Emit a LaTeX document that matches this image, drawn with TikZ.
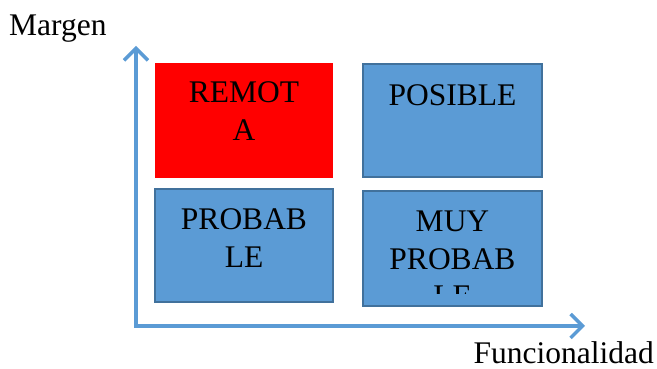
\documentclass[tikz,border=0pt]{standalone}
\usepackage{fontspec}
\setmainfont{Liberation Serif}
\usetikzlibrary{arrows.meta}
\definecolor{boxblue}{HTML}{5B9BD5}
\definecolor{boxedge}{HTML}{41719C}
\definecolor{axisblue}{HTML}{5B9BD5}
\begin{document}
\begin{tikzpicture}[x=1pt,y=1pt,
  bluebox/.style={draw=boxedge,fill=boxblue,line width=2pt},
  redbox/.style={fill=red},
  lbl/.style={inner sep=0pt,anchor=base,font=\fontsize{31.5}{37.5}\selectfont},
  axis/.style={draw=axisblue,line width=3.5pt,line join=miter,
    {Straight Barb[length=12pt,width=24pt,line width=3.5pt]}-{Straight Barb[length=12pt,width=24pt,line width=3.5pt]}}
]
\useasboundingbox (0,0) rectangle (657,369);
% boxes
\path[redbox] (155,306) rectangle (333,191);
\path[bluebox] (363,305) rectangle (542,192);
\path[bluebox] (155,180) rectangle (333,67);
\path[bluebox] (363,178) rectangle (542,63);
% texts
\node[lbl] (remota) at (244,266) {\begin{tabular}[t]{@{}c@{}}REMOT\\A\end{tabular}};
\node[lbl] (posible) at (452.5,263) {POSIBLE};
\node[lbl] (probable) at (244,139) {\begin{tabular}[t]{@{}c@{}}PROBAB\\LE\end{tabular}};
\begin{scope}
\clip (363,178) rectangle (542,75);
\node[lbl] (muy) at (452.5,137) {\begin{tabular}[t]{@{}c@{}}MUY\\PROBAB\\LE\end{tabular}};
\end{scope}
% axes
\coordinate (top) at (136,323);
\coordinate (corner) at (136,43);
\coordinate (right) at (585,43);
\draw[axis] (top) -- (corner) -- (right);
\node[lbl,anchor=base west] (margen) at (9,333) {Margen};
\node[lbl,anchor=base east] (func) at (654,5) {Funcionalidad};
\end{tikzpicture}
\end{document}
